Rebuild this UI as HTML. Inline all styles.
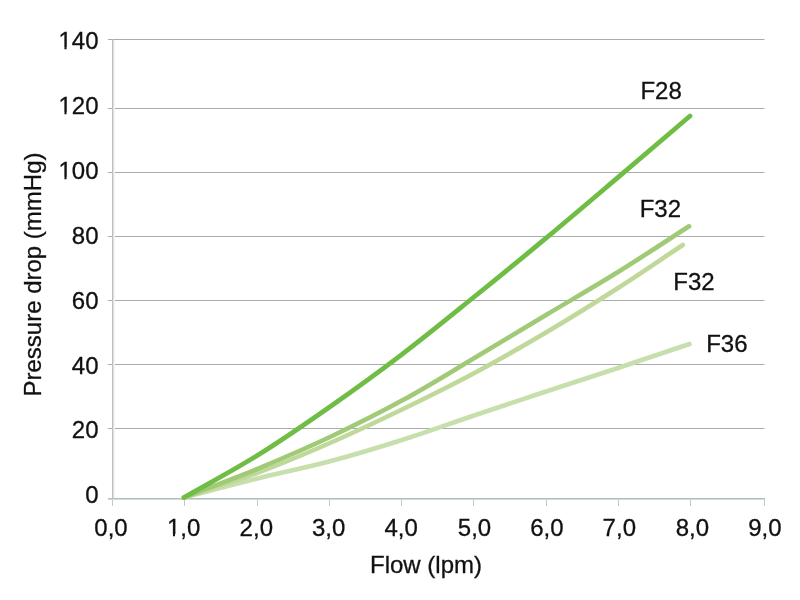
<!DOCTYPE html>
<html><head><meta charset="utf-8"><style>
html,body{margin:0;padding:0;background:#fff;width:800px;height:600px;overflow:hidden}
svg{display:block;will-change:transform}
text{font-family:"Liberation Sans",sans-serif;font-size:24px;fill:#111;stroke:#111;stroke-width:0.3px}
</style></head><body>
<svg width="800" height="600" viewBox="0 0 800 600">
<line x1="108" y1="39.5" x2="764.5" y2="39.5" stroke="#a9acac" stroke-width="1"/>
<line x1="108" y1="108.5" x2="764.5" y2="108.5" stroke="#a9acac" stroke-width="1"/>
<line x1="108" y1="172.5" x2="764.5" y2="172.5" stroke="#a9acac" stroke-width="1"/>
<line x1="108" y1="236.5" x2="764.5" y2="236.5" stroke="#a9acac" stroke-width="1"/>
<line x1="108" y1="300.5" x2="764.5" y2="300.5" stroke="#a9acac" stroke-width="1"/>
<line x1="108" y1="364.5" x2="764.5" y2="364.5" stroke="#a9acac" stroke-width="1"/>
<line x1="108" y1="428.5" x2="764.5" y2="428.5" stroke="#a9acac" stroke-width="1"/>
<rect x="112" y="39" width="1" height="467" fill="#bebfc1"/>
<rect x="113" y="40" width="1" height="458" fill="#e0e2e3"/>
<rect x="114" y="40" width="1" height="458" fill="#f3f4f5"/>
<rect x="108" y="498" width="657" height="1" fill="#b3c1be"/>
<rect x="108" y="499" width="657" height="1" fill="#cfd9d7"/>
<rect x="112" y="500" width="1" height="6" fill="#c3c5c8"/>
<rect x="184" y="500" width="1" height="6" fill="#c3c5c8"/>
<rect x="257" y="500" width="1" height="6" fill="#c3c5c8"/>
<rect x="329" y="500" width="1" height="6" fill="#c3c5c8"/>
<rect x="401" y="500" width="1" height="6" fill="#c3c5c8"/>
<rect x="473" y="500" width="1" height="6" fill="#c3c5c8"/>
<rect x="546" y="500" width="1" height="6" fill="#c3c5c8"/>
<rect x="618" y="500" width="1" height="6" fill="#c3c5c8"/>
<rect x="690" y="500" width="1" height="6" fill="#c3c5c8"/>
<rect x="764" y="500" width="1" height="6" fill="#c3c5c8"/>
<text x="98.5" y="49.15" text-anchor="end">140</text>
<text x="98.5" y="114.03" text-anchor="end">120</text>
<text x="98.5" y="178.91" text-anchor="end">100</text>
<text x="98.5" y="243.79" text-anchor="end">80</text>
<text x="98.5" y="308.66" text-anchor="end">60</text>
<text x="98.5" y="373.54" text-anchor="end">40</text>
<text x="98.5" y="438.42" text-anchor="end">20</text>
<text x="98.5" y="503.30" text-anchor="end">0</text>
<text x="111.00" y="535.7" text-anchor="middle">0,0</text>
<text x="183.60" y="535.7" text-anchor="middle">1,0</text>
<text x="256.30" y="535.7" text-anchor="middle">2,0</text>
<text x="328.70" y="535.7" text-anchor="middle">3,0</text>
<text x="401.10" y="535.7" text-anchor="middle">4,0</text>
<text x="474.50" y="535.7" text-anchor="middle">5,0</text>
<text x="546.90" y="535.7" text-anchor="middle">6,0</text>
<text x="619.30" y="535.7" text-anchor="middle">7,0</text>
<text x="692.40" y="535.7" text-anchor="middle">8,0</text>
<text x="764.90" y="535.7" text-anchor="middle">9,0</text>
<path d="M184.00,497.50 C208.53,491.17 233.27,484.53 257.60,478.50 C281.93,472.47 305.93,467.72 330.00,461.30 C354.07,454.88 378.00,447.63 402.00,440.00 C426.00,432.37 450.00,423.58 474.00,415.50 C498.00,407.42 522.00,399.42 546.00,391.50 C570.00,383.58 594.08,375.92 618.00,368.00 C641.92,360.08 665.67,352.00 689.50,344.00" fill="none" stroke="#c6dfac" stroke-width="4.6" stroke-linecap="round" stroke-linejoin="round"/>
<path d="M184.00,497.50 C208.53,489.27 233.27,481.88 257.60,472.80 C281.93,463.72 305.93,453.55 330.00,443.00 C354.07,432.45 378.00,421.13 402.00,409.50 C426.00,397.87 450.00,386.03 474.00,373.20 C498.00,360.37 522.00,346.70 546.00,332.50 C570.00,318.30 595.21,302.58 618.00,288.00 C640.79,273.42 661.17,259.33 682.75,245.00" fill="none" stroke="#c0d99a" stroke-width="4.6" stroke-linecap="round" stroke-linejoin="round"/>
<path d="M184.00,497.50 C208.53,487.93 233.27,478.88 257.60,468.80 C281.93,458.72 305.93,448.37 330.00,437.00 C354.07,425.63 378.00,413.72 402.00,400.60 C426.00,387.48 450.00,372.57 474.00,358.30 C498.00,344.03 522.00,329.38 546.00,315.00 C570.00,300.62 594.15,286.78 618.00,272.00 C641.85,257.22 665.40,241.53 689.10,226.30" fill="none" stroke="#a0ca76" stroke-width="4.6" stroke-linecap="round" stroke-linejoin="round"/>
<path d="M184.00,497.50 C208.53,483.43 233.27,470.43 257.60,455.30 C281.93,440.17 305.93,423.53 330.00,406.70 C354.07,389.87 378.00,372.58 402.00,354.30 C426.00,336.02 450.00,316.35 474.00,297.00 C498.00,277.65 522.00,258.13 546.00,238.20 C570.00,218.27 594.00,197.77 618.00,177.40 C642.00,157.03 666.00,136.47 690.00,116.00" fill="none" stroke="#70bd45" stroke-width="4.8" stroke-linecap="round" stroke-linejoin="round"/>
<text x="640.4" y="99">F28</text>
<text x="639.7" y="217.2">F32</text>
<text x="673.3" y="289.6">F32</text>
<text x="706.2" y="352.3">F36</text>
<rect x="59" y="47" width="5.45" height="3.2" fill="#fff"/>
<rect x="66.55" y="47" width="5.45" height="3.2" fill="#fff"/>
<rect x="59" y="112" width="5.45" height="3.2" fill="#fff"/>
<rect x="66.55" y="112" width="5.45" height="3.2" fill="#fff"/>
<rect x="59" y="177" width="5.45" height="3.2" fill="#fff"/>
<rect x="66.55" y="177" width="5.45" height="3.2" fill="#fff"/>
<rect x="168" y="534" width="5.00" height="3.2" fill="#fff"/>
<rect x="175" y="534" width="5.00" height="3.2" fill="#fff"/>
<text x="426" y="572.7" text-anchor="middle">Flow (lpm)</text>
<text transform="translate(41.4,274.5) rotate(-90)" text-anchor="middle">Pressure drop (mmHg)</text>
</svg>
</body></html>
